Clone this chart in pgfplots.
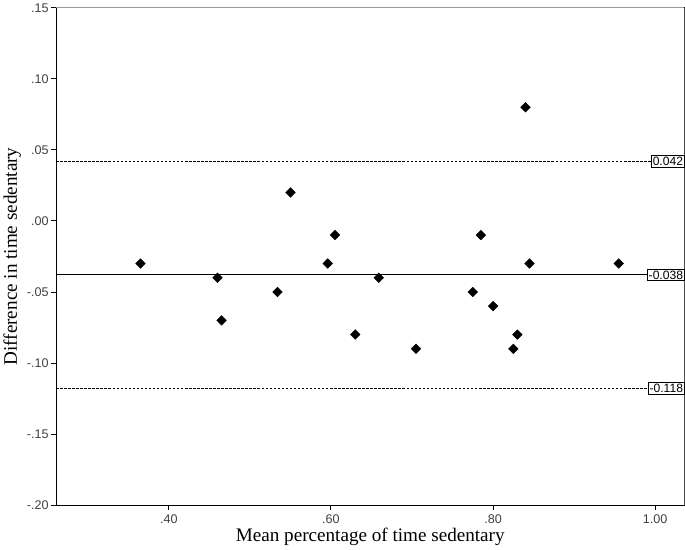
\documentclass[border=0pt]{standalone}
\usepackage{fontspec}
\setmainfont{Liberation Serif}
\newfontfamily\ticksans{Liberation Sans}
\usepackage{pgfplots}
\pgfplotsset{compat=1.18}

\pgfplotstableread{
x y
0.365 -0.03
0.460 -0.04
0.465 -0.07
0.534 -0.05
0.550 0.02
0.596 -0.03
0.605 -0.01
0.630 -0.08
0.659 -0.04
0.705 -0.09
0.775 -0.05
0.785 -0.01
0.800 -0.06
0.840 0.08
0.825 -0.09
0.830 -0.08
0.845 -0.03
0.955 -0.03
}\blandaltman

\begin{document}
\begin{tikzpicture}
\begin{axis}[
  width=624pt, height=494pt, scale only axis,
  xmin=0.261, xmax=1.036, ymin=-0.20, ymax=0.15,
  xtick={0.4,0.6,0.8,1.0}, xticklabels={.40,.60,.80,1.00},
  ytick={-0.2,-0.15,-0.1,-0.05,0,0.05,0.1,0.15},
  yticklabels={-.20,-.15,-.10,-.05,.00,.05,.10,.15},
  tick align=outside, tick pos=left,
  major tick length=5pt,
  tick style={black, line width=0.9pt},
  ticklabel style={font=\ticksans\fontsize{12.5}{14}\selectfont, text=black!75},
  xticklabel style={yshift=-1pt},
  yticklabel style={xshift=1pt},
  axis line style={black, line width=0.9pt},
  xlabel={Mean percentage of time sedentary},
  ylabel={Difference in time sedentary},
  label style={font=\fontsize{19}{22}\selectfont},
  xlabel style={yshift=2pt},
  ylabel style={yshift=-1pt},
  clip=false,
]
\addplot[black, line width=0.9pt, dash pattern=on 2.5pt off 1.5pt] coordinates {(0.261,0.042)(1.0,0.042)};
\addplot[black, line width=0.9pt] coordinates {(0.261,-0.038)(1.0,-0.038)};
\addplot[black, line width=0.9pt, dash pattern=on 2.5pt off 1.5pt] coordinates {(0.261,-0.118)(1.0,-0.118)};
\addplot[only marks, mark=square*, mark size=3.4pt, mark options={rotate=45, fill=black, draw=black}] table[x=x, y=y] {\blandaltman};
\draw[gray!80, line width=1.2pt] (rel axis cs:0,1) -- (rel axis cs:1,1);
\draw[black!70, line width=0.9pt] (rel axis cs:1,0) -- (rel axis cs:1,1);
\node[draw=black, line width=0.8pt, fill=white, anchor=east, inner xsep=1pt, inner ysep=1.5pt,
      font=\ticksans\fontsize{12}{14}\selectfont] at (axis cs:1.036,0.042) {0.042};
\node[draw=black, line width=0.8pt, fill=white, anchor=east, inner xsep=1pt, inner ysep=1.5pt,
      font=\ticksans\fontsize{12}{14}\selectfont] at (axis cs:1.036,-0.038) {-0.038};
\node[draw=black, line width=0.8pt, fill=white, anchor=east, inner xsep=1pt, inner ysep=1.5pt,
      font=\ticksans\fontsize{12}{14}\selectfont] at (axis cs:1.036,-0.118) {-0.118};
\end{axis}
\end{tikzpicture}
\end{document}
